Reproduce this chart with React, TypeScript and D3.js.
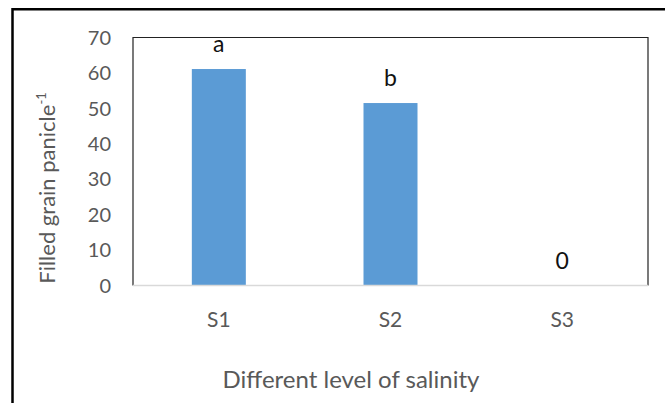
import { useEffect, useRef } from "react";
import * as d3 from "d3";

const levels = ["S1", "S2", "S3"];
const filledGrain = [61.1, 51.5, 0];
const letters = ["a", "b", "0"];
const yTicks = [0, 10, 20, 30, 40, 50, 60, 70];

const font = "Lato, 'Open Sans', sans-serif";

function App() {
  const svgRef = useRef<SVGSVGElement>(null);

  useEffect(() => {
    const svg = d3.select(svgRef.current);
    svg.selectAll("*").remove();

    const left = 133, right = 648, top = 37.5, bottom = 285.5;

    const x = d3.scaleBand().domain(levels).range([left, right]).padding(0);
    const y = d3.scaleLinear().domain([0, 70]).range([bottom, top]);
    const barW = 54;

    // outer frame
    svg.append("rect")
      .attr("x", 12.5).attr("y", 9.25)
      .attr("width", 700).attr("height", 500)
      .attr("fill", "none").attr("stroke", "#000").attr("stroke-width", 2.5);

    // plot area box
    svg.append("path")
      .attr("d", `M${left},${bottom}V${top}H${right}V${bottom}`)
      .attr("fill", "none").attr("stroke", "#222").attr("stroke-width", 1.2);

    // bars
    svg.selectAll(".bar")
      .data(levels)
      .join("rect")
      .attr("class", "bar")
      .attr("x", d => x(d)! + x.bandwidth() / 2 - barW / 2)
      .attr("width", barW)
      .attr("y", (d, i) => y(filledGrain[i]))
      .attr("height", (d, i) => y(0) - y(filledGrain[i]))
      .attr("fill", "#5B9BD5");

    // bottom axis line
    svg.append("line")
      .attr("x1", left).attr("x2", right)
      .attr("y1", bottom).attr("y2", bottom)
      .attr("stroke", "#d9d9d9").attr("stroke-width", 1.5);

    // letters over bars
    svg.selectAll(".lbl")
      .data(levels)
      .join("text")
      .attr("class", "lbl")
      .attr("x", d => x(d)! + x.bandwidth() / 2)
      .attr("y", (d, i) => y(filledGrain[i]) - 17)
      .attr("text-anchor", "middle")
      .attr("font-family", font)
      .attr("font-size", 23)
      .attr("fill", "#111")
      .text((d, i) => letters[i]);

    // y ticks
    svg.selectAll(".ytick")
      .data(yTicks)
      .join("text")
      .attr("class", "ytick")
      .attr("x", 111)
      .attr("y", d => y(d))
      .attr("dy", "0.36em")
      .attr("text-anchor", "end")
      .attr("font-family", font)
      .attr("font-size", 20)
      .attr("fill", "#595959")
      .text(d => d);

    // x ticks
    svg.selectAll(".xtick")
      .data(levels)
      .join("text")
      .attr("class", "xtick")
      .attr("x", d => x(d)! + x.bandwidth() / 2)
      .attr("y", 319)
      .attr("dy", "0.36em")
      .attr("text-anchor", "middle")
      .attr("font-family", font)
      .attr("font-size", 21)
      .attr("fill", "#595959")
      .text(d => d);

    // x title
    svg.append("text")
      .attr("x", 351)
      .attr("y", 388)
      .attr("text-anchor", "middle")
      .attr("font-family", font)
      .attr("font-size", 24)
      .attr("fill", "#595959")
      .text("Different level of salinity");

    // y title
    const yt = svg.append("text")
      .attr("transform", "translate(55,188) rotate(-90)")
      .attr("text-anchor", "middle")
      .attr("font-family", font)
      .attr("font-size", 22)
      .attr("fill", "#595959");
    yt.append("tspan").text("Filled grain panicle");
    yt.append("tspan").attr("dy", -9).attr("font-size", 13).text("-1");
  }, []);

  return (
    <svg
      ref={svgRef}
      width={665}
      height={403}
      style={{ position: "absolute", left: 0, top: 0, background: "#fff" }}
    />
  );
}

export default App;
